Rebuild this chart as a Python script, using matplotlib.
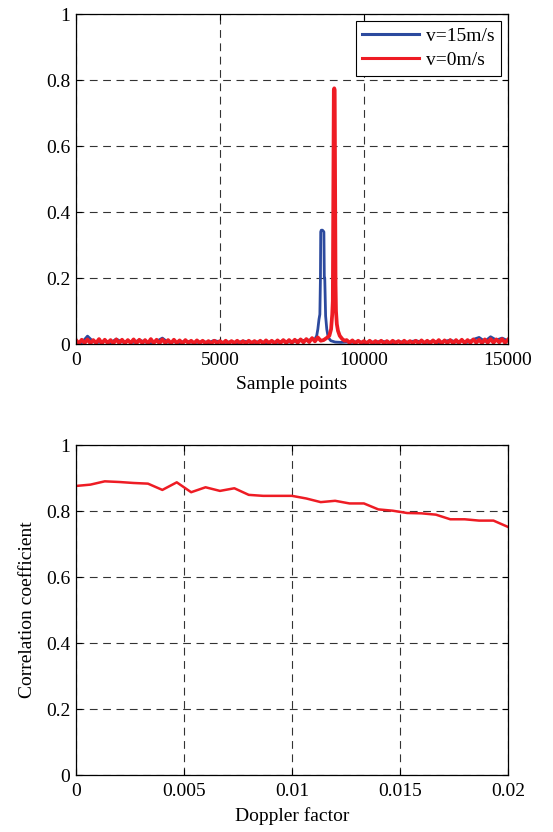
import numpy as np
import matplotlib.pyplot as plt

plt.rcParams['font.family'] = ['Liberation Serif', 'DejaVu Serif']
plt.rcParams['font.size'] = 14

# --- top panel: correlation output vs sample index ---
# noise floor
blue_left_x = np.arange(0, 8201, 200)
blue_right_x = np.arange(9400, 15001, 200)
red_left_x = np.arange(0, 8501, 100)
red_right_x = np.arange(9400, 15001, 100)

blue_floor_left = [0.006, 0.004, 0.024, 0.007, 0.005, 0.010, 0.004, 0.015, 0.006, 0.009,
                   0.005, 0.012, 0.006, 0.004, 0.008, 0.018, 0.005, 0.007, 0.004, 0.009,
                   0.006, 0.005, 0.008, 0.004, 0.011, 0.006, 0.005, 0.007, 0.004, 0.009,
                   0.006, 0.005, 0.008, 0.004, 0.007, 0.005, 0.010, 0.006, 0.008, 0.012,
                   0.010, 0.014]
blue_floor_right = [0.006, 0.005, 0.008, 0.004, 0.007, 0.005, 0.009, 0.006, 0.004, 0.008,
                    0.005, 0.007, 0.010, 0.006, 0.005, 0.009, 0.004, 0.008, 0.012, 0.006,
                    0.010, 0.005, 0.014, 0.020, 0.008, 0.022, 0.012, 0.018, 0.010]

red_floor_left = [0.012, 0.002, 0.013, 0.003, 0.014, 0.002, 0.012, 0.003, 0.015, 0.002,
                  0.013, 0.003, 0.012, 0.002, 0.014, 0.003, 0.013, 0.002, 0.012, 0.003,
                  0.014, 0.002, 0.013, 0.003, 0.012, 0.002, 0.015, 0.003, 0.013, 0.002,
                  0.014, 0.003, 0.012, 0.002, 0.013, 0.003, 0.011, 0.002, 0.012, 0.003,
                  0.010, 0.002, 0.011, 0.003, 0.010, 0.002, 0.009, 0.002, 0.010, 0.003,
                  0.009, 0.002, 0.010, 0.002, 0.009, 0.003, 0.010, 0.002, 0.009, 0.002,
                  0.010, 0.003, 0.009, 0.002, 0.010, 0.002, 0.011, 0.003, 0.010, 0.002,
                  0.011, 0.003, 0.012, 0.003, 0.012, 0.004, 0.013, 0.004, 0.014, 0.005,
                  0.015, 0.006, 0.018, 0.008, 0.020, 0.010]
red_floor_right = [0.012, 0.004, 0.011, 0.002, 0.010, 0.003, 0.009, 0.002, 0.010, 0.002,
                   0.009, 0.003, 0.010, 0.002, 0.009, 0.002, 0.010, 0.003, 0.009, 0.002,
                   0.010, 0.002, 0.009, 0.003, 0.010, 0.002, 0.011, 0.003, 0.010, 0.002,
                   0.011, 0.003, 0.012, 0.002, 0.011, 0.003, 0.012, 0.002, 0.012, 0.003,
                   0.013, 0.003, 0.012, 0.004, 0.014, 0.004, 0.013, 0.003, 0.014, 0.004,
                   0.015, 0.004, 0.014, 0.005, 0.015, 0.004, 0.013]

# peaks
blue_peak_x = [8300, 8360, 8400, 8440, 8470, 8490, 8500, 8520, 8560, 8610, 8625, 8640, 8670, 8710, 8760, 8850, 9000, 9200]
blue_peak_y = [0.015, 0.025, 0.045, 0.075, 0.090, 0.200, 0.340, 0.345, 0.345, 0.340, 0.200, 0.200, 0.085, 0.045, 0.020, 0.010, 0.006, 0.005]
red_peak_x = [8600, 8700, 8800, 8860, 8900, 8920, 8940, 8955, 8970, 8985, 9000, 9015, 9030, 9060, 9100, 9160, 9250, 9330]
red_peak_y = [0.012, 0.018, 0.025, 0.045, 0.090, 0.130, 0.520, 0.770, 0.775, 0.770, 0.500, 0.180, 0.100, 0.060, 0.040, 0.025, 0.015, 0.010]

blue_x = np.concatenate([blue_left_x, blue_peak_x, blue_right_x])
blue_y = np.concatenate([blue_floor_left, blue_peak_y, blue_floor_right])
red_x = np.concatenate([red_left_x, red_peak_x, red_right_x])
red_y = np.concatenate([red_floor_left, red_peak_y, red_floor_right])

# --- bottom panel: correlation coefficient vs Doppler factor ---
doppler = np.linspace(0, 0.02, 31)
corr = [0.876, 0.880, 0.890, 0.888, 0.885, 0.883, 0.864, 0.887, 0.857, 0.872,
        0.861, 0.869, 0.849, 0.846, 0.846, 0.846, 0.838, 0.827, 0.831, 0.823,
        0.823, 0.805, 0.801, 0.794, 0.793, 0.789, 0.775, 0.775, 0.771, 0.771,
        0.752]

blue = '#2c4a9e'
red = '#ee1c24'

fig = plt.figure(figsize=(5.53, 8.32), dpi=100)
ax1 = fig.add_axes([0.1374, 0.5865, 0.781, 0.3966])
ax2 = fig.add_axes([0.1374, 0.0685, 0.781, 0.3966])


def style(ax):
    ax.grid(True, linestyle=(0, (7, 5)), color='0.2', linewidth=0.8)
    ax.tick_params(direction='in', length=4, top=True, right=True, labelsize=14)
    ax.tick_params(axis='x', pad=6)
    ax.tick_params(axis='y', pad=4)
    for s in ax.spines.values():
        s.set_linewidth(0.9)
    ax.set_axisbelow(True)


ax1.plot(blue_x, blue_y, color=blue, lw=2.0, label='v=15m/s')
ax1.plot(red_x, red_y, color=red, lw=2.7, label='v=0m/s')
ax1.set_xlim(0, 15000)
ax1.set_ylim(0, 1)
ax1.set_xticks([0, 5000, 10000, 15000])
ax1.set_xticklabels(['0', '5000', '10000', '15000'])
ax1.set_yticks([0, 0.2, 0.4, 0.6, 0.8, 1])
ax1.set_yticklabels(['0', '0.2', '0.4', '0.6', '0.8', '1'])
ax1.set_xlabel('Sample points', labelpad=5)
style(ax1)
leg = ax1.legend(loc='upper right', fancybox=False, edgecolor='black', framealpha=1,
                 handlelength=2.9, borderaxespad=0.35, borderpad=0.35, labelspacing=0.3,
                 handletextpad=0.35, fontsize=14)
leg.get_frame().set_linewidth(0.8)
for h in leg.get_lines():
    h.set_linewidth(2.2)

ax2.plot(doppler, corr, color=red, lw=1.8)
ax2.set_xlim(0, 0.02)
ax2.set_ylim(0, 1)
ax2.set_xticks([0, 0.005, 0.01, 0.015, 0.02])
ax2.set_xticklabels(['0', '0.005', '0.01', '0.015', '0.02'])
ax2.set_yticks([0, 0.2, 0.4, 0.6, 0.8, 1])
ax2.set_yticklabels(['0', '0.2', '0.4', '0.6', '0.8', '1'])
ax2.set_xlabel('Doppler factor', labelpad=5)
ax2.set_ylabel('Correlation coefficient', labelpad=7)
style(ax2)

fig.savefig('out.png', dpi=100)
